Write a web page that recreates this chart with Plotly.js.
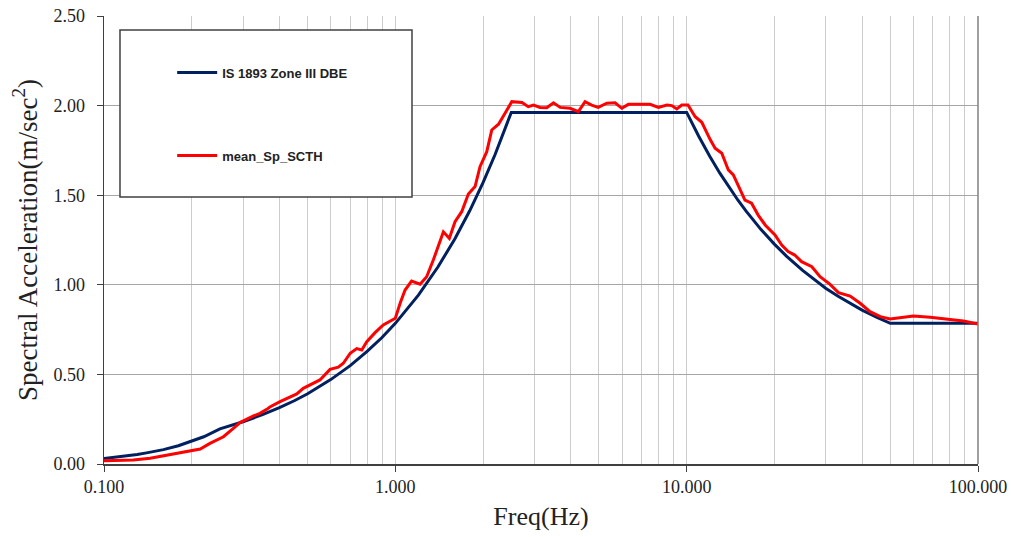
<!DOCTYPE html>
<html>
<head>
<meta charset="utf-8">
<script src="https://cdn.plot.ly/plotly-3.0.1.min.js"></script>
<style>html,body{margin:0;padding:0;background:#fff;}#chart{width:1011px;height:537px;}</style>
</head>
<body>
<div id="chart"></div>
<script>
// IS 1893 Zone III DBE design spectrum
const codeFreq = [0.1,0.11,0.12,0.13,0.14,0.15,0.16,0.18,0.2,0.22,0.25,0.28,0.3,0.35,0.4,0.45,0.5,0.6,0.7,0.8,0.9,1.0,1.2,1.4,1.6,1.8,2.0,2.2,2.5,3,4,5,6,7,8,9,10,11,12,13,14,15,16,18,20,22,25,28,30,33,36,40,45,50,60,70,80,90,100];
const codeSa = [0.031,0.038,0.045,0.053,0.062,0.071,0.080,0.102,0.126,0.152,0.196,0.220,0.236,0.275,0.314,0.353,0.392,0.471,0.549,0.628,0.706,0.785,0.942,1.099,1.256,1.413,1.570,1.727,1.962,1.962,1.962,1.962,1.962,1.962,1.962,1.962,1.962,1.829,1.717,1.623,1.542,1.472,1.411,1.308,1.227,1.160,1.080,1.017,0.981,0.937,0.900,0.859,0.818,0.785,0.785,0.785,0.785,0.785,0.785];

// mean_Sp_SCTH
const meanFreq = [0.100,0.114,0.126,0.144,0.164,0.187,0.214,0.231,0.257,0.278,0.293,0.326,0.343,0.362,0.371,0.402,0.436,0.459,0.483,0.509,0.551,0.597,0.637,0.663,0.700,0.737,0.767,0.798,0.852,0.909,0.985,1.000,1.040,1.080,1.137,1.216,1.281,1.350,1.462,1.532,1.603,1.690,1.781,1.878,1.953,2.060,2.143,2.260,2.380,2.510,2.720,2.860,2.980,3.140,3.310,3.490,3.680,3.980,4.250,4.480,4.720,4.970,5.320,5.680,5.990,6.310,6.650,7.100,7.490,8.000,8.550,8.890,9.250,9.620,10.10,10.70,11.27,12.03,12.52,13.20,13.90,14.46,15.24,15.85,16.70,17.60,18.60,20.10,21.20,22.30,23.50,24.80,26.90,28.70,31.00,33.20,36.40,39.40,42.60,46.20,49.90,54.70,60.00,68.50,79.20,89.10,100.0];
const meanSa = [0.018,0.018,0.022,0.032,0.050,0.065,0.084,0.115,0.152,0.199,0.231,0.268,0.283,0.305,0.318,0.348,0.376,0.391,0.422,0.441,0.469,0.528,0.540,0.562,0.618,0.644,0.636,0.683,0.733,0.776,0.804,0.813,0.900,0.971,1.021,1.003,1.045,1.138,1.296,1.259,1.352,1.408,1.507,1.548,1.659,1.743,1.864,1.896,1.957,2.022,2.017,1.994,2.003,1.990,1.988,2.016,1.990,1.985,1.966,2.022,2.003,1.990,2.013,2.016,1.985,2.007,2.007,2.009,2.007,1.990,2.003,2.000,1.981,2.003,2.003,1.938,1.907,1.812,1.762,1.734,1.641,1.613,1.529,1.473,1.455,1.389,1.334,1.278,1.222,1.185,1.166,1.129,1.101,1.045,1.004,0.956,0.937,0.897,0.850,0.822,0.809,0.817,0.826,0.819,0.809,0.798,0.781];

const xTickVals = [0.1,1,10,100];
const xTickText = ["0.100","1.000","10.000","100.000"];
const minorVals = [];
[0.1,1,10].forEach(d=>{for(let k=2;k<=9;k++) minorVals.push(+(d*k).toFixed(4));});

const traces = [
  {x: codeFreq, y: codeSa, type:'scatter', mode:'lines', name:'IS 1893 Zone III DBE',
   legendgroup:'a', line:{color:'#002060', width:3}},
  {x: meanFreq, y: meanSa, type:'scatter', mode:'lines', name:'mean_Sp_SCTH',
   legendgroup:'b', line:{color:'#ff0000', width:3}}
];

const serif = 'Liberation Serif, Times New Roman, serif';
const layout = {
  width:1011, height:537,
  margin:{l:104, r:33, t:16, b:73},
  paper_bgcolor:'#fff', plot_bgcolor:'#fff',
  showlegend:true,
  legend:{x:0.078, y:0.907, xanchor:'left', yanchor:'top', bgcolor:'rgba(0,0,0,0)', borderwidth:0,
    traceorder:'grouped', tracegroupgap:63, itemwidth:40,
    font:{family:'Liberation Sans, Arial, sans-serif', size:13, color:'#222', weight:'bold'}},
  xaxis:{type:'log', range:[-1,2], tickmode:'array', tickvals:xTickVals, ticktext:xTickText,
    showgrid:true, gridcolor:'#cccccc', gridwidth:1,
    minor:{tickmode:'array', tickvals:minorVals, showgrid:true, gridcolor:'#cccccc', gridwidth:1, ticks:''},
    showline:true, linecolor:'#404040', linewidth:1.5, ticks:'outside', ticklen:6, tickcolor:'#404040',
    tickfont:{family:serif, size:18, color:'#222'},
    title:{text:'Freq(Hz)', font:{family:serif, size:26, color:'#222'}, standoff:10},
    zeroline:false},
  yaxis:{range:[0,2.5], dtick:0.5, tick0:0, tickformat:'.2f',
    showgrid:true, gridcolor:'#a6a6a6', gridwidth:1,
    showline:true, linecolor:'#404040', linewidth:1.5, ticks:'outside', ticklen:6, tickcolor:'#404040',
    ticklabelstandoff:8,
    tickfont:{family:serif, size:18, color:'#222'},
    title:{text:'Spectral Acceleration(m/sec<sup>2</sup>)', font:{family:serif, size:27, color:'#222'}, standoff:8},
    zeroline:false},
  shapes:[
    {type:'rect', xref:'paper', yref:'paper', x0:0.0183, x1:0.3524, y0:0.596, y1:0.969,
     fillcolor:'#ffffff', line:{color:'#404040', width:1.5}, layer:'above'},
    {type:'line', xref:'paper', yref:'paper', x0:1, x1:1, y0:0, y1:1,
     line:{color:'#808080', width:1.5}, layer:'above'}
  ]
};

Plotly.newPlot('chart', traces, layout, {displayModeBar:false, staticPlot:true});
</script>
</body>
</html>
